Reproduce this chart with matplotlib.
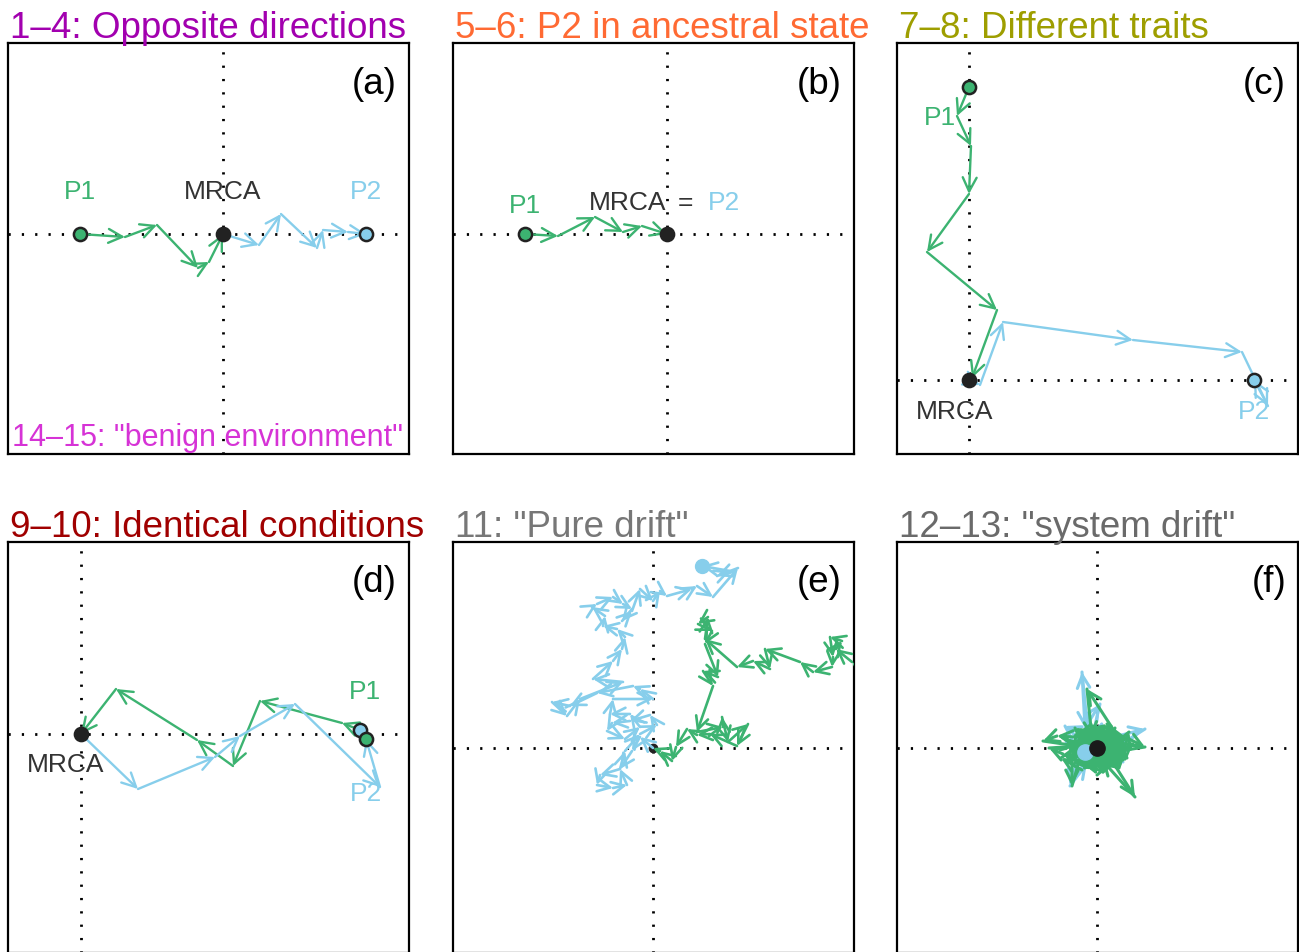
import matplotlib
matplotlib.use("Agg")
import matplotlib.pyplot as plt
from matplotlib.patches import FancyArrowPatch

plt.rcParams["font.family"] = ["Liberation Sans", "DejaVu Sans"]

GREEN = "#3CB371"
BLUE = "#87CEEB"
DARK = "#333333"

# panel (a): trait paths, MRCA at origin
a_green_x = [-143, -98, -66, -25, -14, 0]
a_green_y = [0, -3, 9, -34, -28, 0]
a_blue_x = [0, 36, 58, 94, 100, 125, 143]
a_blue_y = [0, -11, 20, -14, 4, 2, 0]

# panel (b)
b_green_x = [-142, -109, -72, -44, -25, 0]
b_green_y = [0, -2, 17, 2, 8, 0]

# panel (c)
c_green_x = [0, -12, 2, 0, -42, 28, 3]
c_green_y = [293, 264, 234, 186, 128, 70, 2]
c_blue_x = [0, 11, 34, 164, 273, 299, 285]
c_blue_y = [0, -5, 58, 40, 28, -26, 0]

# panel (d)
d_green_x = [279, 261, 179, 152, 116, 35, 0]
d_green_y = [4, 11, 33, -32, -6, 45, 0]
d_blue_x = [0, 57, 134, 159, 214, 299, 285]
d_blue_y = [0, -55, -23, -2, 30, -53, -5]

# panel (e) "pure drift"
e_blue_x = [0, -13, -21, -33, -53, -56, -40, -26, -33, -28, -13, 4, -3, -23, -41, -46,
            -28, -13, -23, -43, -40, 0, -13, -20, -56, -83, -101, -86, -73, -30, -60,
            -40, -31, -28, -36, -50, -48, -61, -56, -40, -30, -21, -31, -21, -13, 0, 7,
            14, 39, 44, 60, 85, 64, 77, 49]
e_blue_y = [0, 11, -3, -21, -27, -37, -40, -37, -21, -3, 14, 23, 33, 27, 25, 17,
            9, 21, 34, 34, 49, 49, 59, 62, 55, 42, 46, 32, 49, 66, 69,
            87, 99, 111, 119, 122, 132, 141, 144, 151, 144, 139, 127, 137, 159, 147, 157,
            152, 159, 162, 151, 180, 172, 177, 182]
e_green_x = [205, 199, 183, 189, 177, 180, 179, 160, 147, 112, 117, 100, 84, 52, 55, 45,
             59, 52, 65, 50, 60, 44, 70, 69, 75, 95, 84, 57, 44, 34, 23, 19, 7, 0]
e_green_y = [81, 86, 99, 107, 111, 91, 81, 76, 86, 99, 79, 87, 81, 109, 131, 124,
             117, 104, 71, 77, 62, 16, 21, 31, 6, 24, 2, 14, 13, 19, 1, -13, -3, 0]

# panel (f) "system drift"
f_blue_x = [0, -8, -15, -12, 3, -5, -32, -18, -27, -10, 5, 48, 15, 26, 0, -12]
f_blue_y = [0, 5, 76, 20, 44, 10, 22, -5, -38, -15, 8, 19, -2, -14, -8, -4]
f_green_x = [5, 20, -10, 25, -10, -5, -40, -54, -20, 30, 48, 10, 38, 5, -25, -25, -12,
             18, 6, -34, -48, -2, 30, 14, -20, 8, 28, -8, -32, 22, 32, -15, -36, 10,
             27, -22, 0, 36, -12, 16, -26, 5, 22, -12, 12, -18, 24, -6, -28, 18, 4,
             -20, 26, -4, -30, 14, 20, -16, 6, 30, -10, -24, 16, -2, 24, -14, 8, 0]
f_green_y = [-3, 12, -12, 5, 59, 10, 12, 7, 2, 10, 1, -5, -49, -12, -15, -38, 8,
             16, -24, -6, 0, 3, -10, 22, 14, -18, 2, -10, 10, -20, 16, -22, -10, 24,
             -8, 20, -27, 4, 6, -14, 0, 16, -18, -5, 18, -14, 10, -20, 4, 20, -16,
             14, -12, 22, -14, 8, -20, 18, -24, -2, 20, -4, 14, -18, 8, 12, -10, 0]

titles = ["1\u20134: Opposite directions", "5\u20136: P2 in ancestral state",
          "7\u20138: Different traits", "9\u201310: Identical conditions",
          "11: \"Pure drift\"", "12\u201313: \"system drift\""]
title_colors = ["#A200AF", "#FF6A33", "#9E9E00", "#A00000", "#777777", "#6A6A6A"]
letters = ["(a)", "(b)", "(c)", "(d)", "(e)", "(f)"]

W, H = 1299, 953
fig = plt.figure(figsize=(W / 100, H / 100), dpi=100)

# panel boxes in pixels: left, top, and origin of the dotted cross
lefts = [8, 453, 897]
tops = [44, 543]
origins = [(223, 235), (667, 235), (969, 381), (81, 735), (653, 749), (1097, 749)]
PW, PH = 401, 411

axes = []
for i in range(6):
    L = lefts[i % 3]
    T = tops[i // 3]
    ox, oy = origins[i]
    ax = fig.add_axes([L / W, 1 - (T + PH) / H, PW / W, PH / H])
    ax.set_xlim(L - ox, L + PW - ox)
    ax.set_ylim(oy - (T + PH), oy - T)
    ax.set_xticks([])
    ax.set_yticks([])
    for s in ax.spines.values():
        s.set_linewidth(1.6)
        s.set_color("black")
    ax.axhline(0, color="black", lw=2, ls=(0, (0.8, 4)), zorder=1)
    ax.axvline(0, color="black", lw=2, ls=(0, (0.8, 4)), zorder=1)
    ax.text(1 - 12 / PW, 1 - 40 / PH, letters[i], transform=ax.transAxes,
            ha="right", va="center", fontsize=26.5, color="black")
    fig.text((L + 2) / W, 1 - (T - 6) / H, titles[i], color=title_colors[i],
             ha="left", va="baseline", fontsize=26.5)
    axes.append(ax)


def path(ax, xs, ys, color, hl=10, hw=5, lw=1.7):
    for k in range(len(xs) - 1):
        ax.add_patch(FancyArrowPatch(
            (xs[k], ys[k]), (xs[k + 1], ys[k + 1]),
            arrowstyle=f"->,head_length={hl},head_width={hw}",
            mutation_scale=1, lw=lw, color=color,
            shrinkA=0, shrinkB=0, capstyle="round", joinstyle="round", zorder=3))


def dot(ax, x, y, face, edge="#222222", ms=9.5):
    ax.plot([x], [y], "o", ms=ms, mfc=face, mec=edge, mew=1.8, zorder=5)


ax_a, ax_b, ax_c, ax_d, ax_e, ax_f = axes
lab = 19

# (a)
path(ax_a, a_green_x, a_green_y, GREEN)
path(ax_a, a_blue_x, a_blue_y, BLUE)
dot(ax_a, a_green_x[0], a_green_y[0], GREEN)
dot(ax_a, 0, 0, "#222222")
dot(ax_a, a_blue_x[-1], a_blue_y[-1], BLUE)
ax_a.text(-143, 43, "P1", color=GREEN, fontsize=lab, ha="center", va="center")
ax_a.text(0, 43, "MRCA", color=DARK, fontsize=lab, ha="center", va="center")
ax_a.text(143, 43, "P2", color=BLUE, fontsize=lab, ha="center", va="center")
ax_a.text(-211, -203, "14\u201315: \"benign environment\"", color="#D633D6",
          fontsize=22, ha="left", va="center")

# (b)
path(ax_b, b_green_x, b_green_y, GREEN)
dot(ax_b, b_green_x[0], b_green_y[0], GREEN)
dot(ax_b, 0, 0, "#222222")
ax_b.text(-142, 29, "P1", color=GREEN, fontsize=lab, ha="center", va="center")
ax_b.text(-39, 32, "MRCA", color=DARK, fontsize=lab, ha="center", va="center")
ax_b.text(18, 32, "=", color=DARK, fontsize=lab, ha="center", va="center")
ax_b.text(57, 32, "P2", color=BLUE, fontsize=lab, ha="center", va="center")

# (c)
path(ax_c, c_green_x, c_green_y, GREEN)
path(ax_c, c_blue_x, c_blue_y, BLUE)
dot(ax_c, c_green_x[0], c_green_y[0], GREEN)
dot(ax_c, 0, 0, "#222222")
dot(ax_c, c_blue_x[-1], c_blue_y[-1], BLUE)
ax_c.text(-29, 263, "P1", color=GREEN, fontsize=lab, ha="center", va="center")
ax_c.text(-14, -31, "MRCA", color=DARK, fontsize=lab, ha="center", va="center")
ax_c.text(285, -31, "P2", color=BLUE, fontsize=lab, ha="center", va="center", zorder=2)

# (d)
path(ax_d, d_green_x, d_green_y, GREEN)
path(ax_d, d_blue_x, d_blue_y, BLUE)
dot(ax_d, 0, 0, "#222222")
dot(ax_d, d_green_x[0], d_green_y[0], BLUE)
dot(ax_d, d_blue_x[-1], d_blue_y[-1], GREEN)
ax_d.text(284, 43, "P1", color=GREEN, fontsize=lab, ha="center", va="center")
ax_d.text(-15, -30, "MRCA", color=DARK, fontsize=lab, ha="center", va="center")
ax_d.text(285, -59, "P2", color=BLUE, fontsize=lab, ha="center", va="center", zorder=2)

# (e)
path(ax_e, e_blue_x, e_blue_y, BLUE, hl=9, hw=4.5, lw=1.9)
path(ax_e, e_green_x, e_green_y, GREEN, hl=9, hw=4.5, lw=1.9)
ax_e.plot([0], [0], "o", ms=6, color="#222222", zorder=2)
ax_e.plot([e_blue_x[-1]], [e_blue_y[-1]], "o", ms=10, color=BLUE, zorder=5)

# (f)
path(ax_f, f_blue_x, f_blue_y, BLUE, hl=9, hw=4.5, lw=2.2)
path(ax_f, f_green_x, f_green_y, GREEN, hl=9, hw=4.5, lw=2.2)
ax_f.plot([f_blue_x[-1]], [f_blue_y[-1]], "o", ms=11, color=BLUE, zorder=5)
ax_f.plot([0], [0], "o", ms=11, color="#1a1a1a", zorder=6)

fig.savefig("out.png", dpi=100)
